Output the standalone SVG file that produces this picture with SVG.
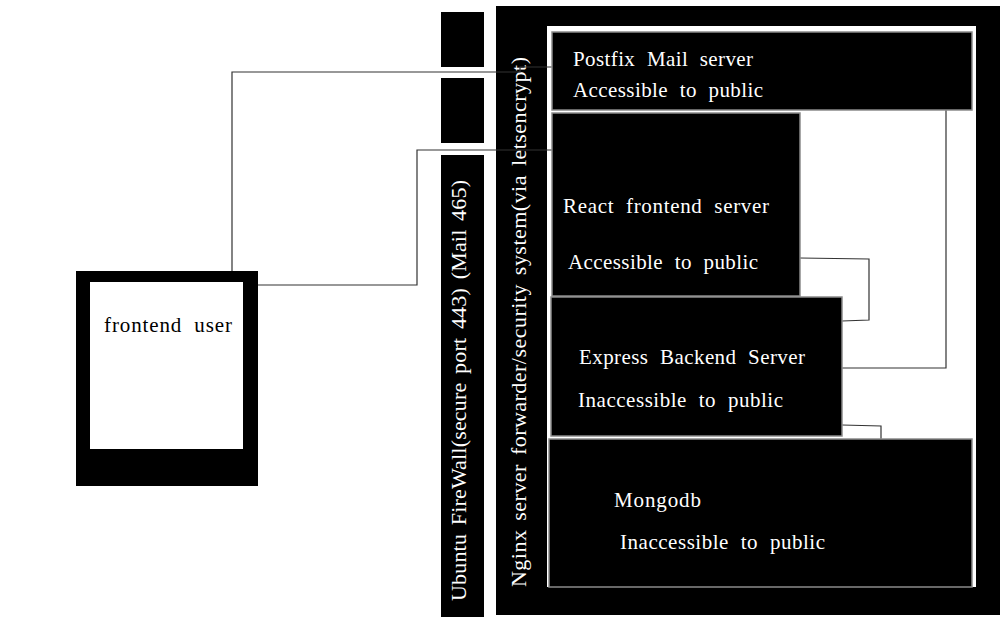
<svg xmlns="http://www.w3.org/2000/svg" width="1008" height="631" viewBox="0 0 1008 631">
<style>
.blk{fill:#000}
.box{fill:#000;stroke:#8a8a8a;stroke-width:1.5}
.t{font-family:"Liberation Serif","Times New Roman",serif;font-size:21px;fill:#fff;word-spacing:6px}
.tv{font-family:"Liberation Serif","Times New Roman",serif;font-size:22px;fill:#fff;word-spacing:3px}
.tb{font-family:"Liberation Serif","Times New Roman",serif;font-size:21px;fill:#000;word-spacing:6px}
.c{fill:none;stroke:#333;stroke-width:1.2}
</style>
<rect width="1008" height="631" fill="#fff"/>
<g id="frontend-user">
<rect class="blk" x="76" y="271" width="182" height="215"/>
<rect x="90" y="282" width="153" height="167" fill="#fff"/>
<text class="tb" x="104" y="332" textLength="128" lengthAdjust="spacing">frontend user</text>
</g>
<g id="firewall">
<rect class="blk" x="441" y="12" width="43" height="55"/>
<rect class="blk" x="441" y="78" width="43" height="65"/>
<rect class="blk" x="441" y="155" width="43" height="462"/>
<text class="tv" transform="translate(466,601) rotate(-90)" textLength="421" lengthAdjust="spacing">Ubuntu FireWall(secure port 443) (Mail 465)</text>
</g>
<g id="nginx">
<rect class="blk" x="496" y="6" width="504" height="609"/>
<rect x="547" y="26" width="429" height="561" fill="#fff"/>
<text class="tv" transform="translate(526,587) rotate(-90)" textLength="530" lengthAdjust="spacing">Nginx server forwarder/security system(via letsencrypt)</text>
</g>
<g id="connectors">
<polyline class="c" points="232,271 232,72 520,72 520,67 552,67"/>
<polyline class="c" points="258,285 417,285 417,150 552,150"/>
<polyline class="c" points="800,258 869,259 869,320 842,321"/>
<polyline class="c" points="946,110 946,368 842,368"/>
<polyline class="c" points="842,425 881,426 881,439"/>
</g>
<g id="postfix">
<rect class="box" x="552" y="32" width="420" height="78"/>
<text class="t" x="573" y="66" textLength="180" lengthAdjust="spacing">Postfix Mail server</text>
<text class="t" x="573" y="97" textLength="190" lengthAdjust="spacing">Accessible to public</text>
</g>
<g id="react">
<rect class="box" x="552" y="113" width="248" height="183"/>
<text class="t" x="563" y="213" textLength="206" lengthAdjust="spacing">React frontend server</text>
<text class="t" x="568" y="269" textLength="190" lengthAdjust="spacing">Accessible to public</text>
</g>
<g id="express">
<rect class="box" x="551" y="297" width="291" height="139"/>
<text class="t" x="579" y="364" textLength="226" lengthAdjust="spacing">Express Backend Server</text>
<text class="t" x="578" y="407" textLength="205" lengthAdjust="spacing">Inaccessible to public</text>
</g>
<g id="mongodb">
<rect class="box" x="549" y="439" width="423" height="148"/>
<text class="t" x="614" y="507" textLength="87" lengthAdjust="spacing">Mongodb</text>
<text class="t" x="620" y="549" textLength="205" lengthAdjust="spacing">Inaccessible to public</text>
</g>
</svg>
